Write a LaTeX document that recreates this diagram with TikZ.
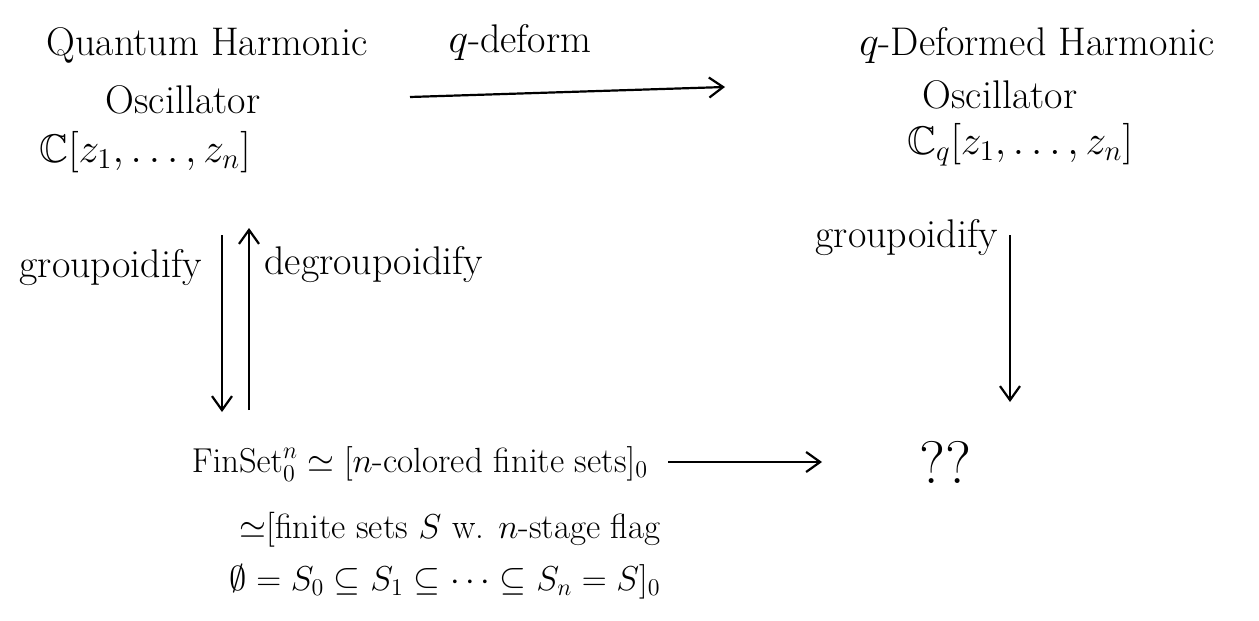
\documentclass[tikz,border=0pt]{standalone}
\usepackage{amsmath,amssymb}
\usetikzlibrary{arrows.meta}
\begin{document}
\begin{tikzpicture}[x=0.5pt,y=-0.5pt,
  lbl/.style={inner sep=0pt,font=\fontsize{20}{24}\selectfont},
  small/.style={inner sep=0pt,font=\fontsize{17.5}{21}\selectfont},
  arr/.style={line width=1.1pt,-{Straight Barb[length=7pt,width=10pt,line width=1.1pt]}}]
\useasboundingbox (0,0) rectangle (1259,621);
% left top
\node[lbl] (qh1) at (207,45) {Quantum Harmonic};
\node[lbl] (qh2) at (183,100) {Oscillator};
\node[lbl] (qh3) at (145,152) {$\mathbb{C}[z_1,\ldots,z_n]$};
% right top
\node[lbl] (dq1) at (1037,45) {$q$-Deformed Harmonic};
\node[lbl] (dq2) at (1000,95) {Oscillator};
\node[lbl] (dq3) at (1020,145) {$\mathbb{C}_q[z_1,\ldots,z_n]$};
% deform label
\node[lbl] (deflbl) at (520,42) {$q$-deform};
% bottom left
\node[small] (fin) at (420,464) {$\mathrm{FinSet}^n_0\simeq[n\text{-colored finite sets}]_0$};
\node[small] (flag1) at (450,530) {$\simeq$[finite sets $S$ w. $n$-stage flag};
\node[small] (flag2) at (445,582) {$\emptyset=S_0\subseteq S_1\subseteq\cdots\subseteq S_n=S]_0$};
% bottom right
\node[lbl,font=\fontsize{30}{34}\selectfont] (qq) at (945,462) {??};
% arrow anchors
\coordinate (a1s) at (410,97);
\coordinate (a1e) at (725,87);
\coordinate (gds) at (222,235);
\coordinate (gde) at (222,412);
\coordinate (ugs) at (249,410);
\coordinate (uge) at (249,228);
\coordinate (rds) at (1010,235);
\coordinate (rde) at (1010,402);
\coordinate (bs) at (668,462);
\coordinate (be) at (822,462);
\draw[arr] (a1s) -- (a1e);
\draw[arr] (gds) -- (gde);
\draw[arr] (ugs) -- (uge);
\draw[arr] (rds) -- (rde);
\draw[arr] (bs) -- (be);
\node[lbl,anchor=east] (g1) at (202,268) {groupoidify};
\node[lbl,anchor=west] (dg) at (264,265) {degroupoidify};
\node[lbl,anchor=east] (g2) at (998,238) {groupoidify};
\end{tikzpicture}
\end{document}
